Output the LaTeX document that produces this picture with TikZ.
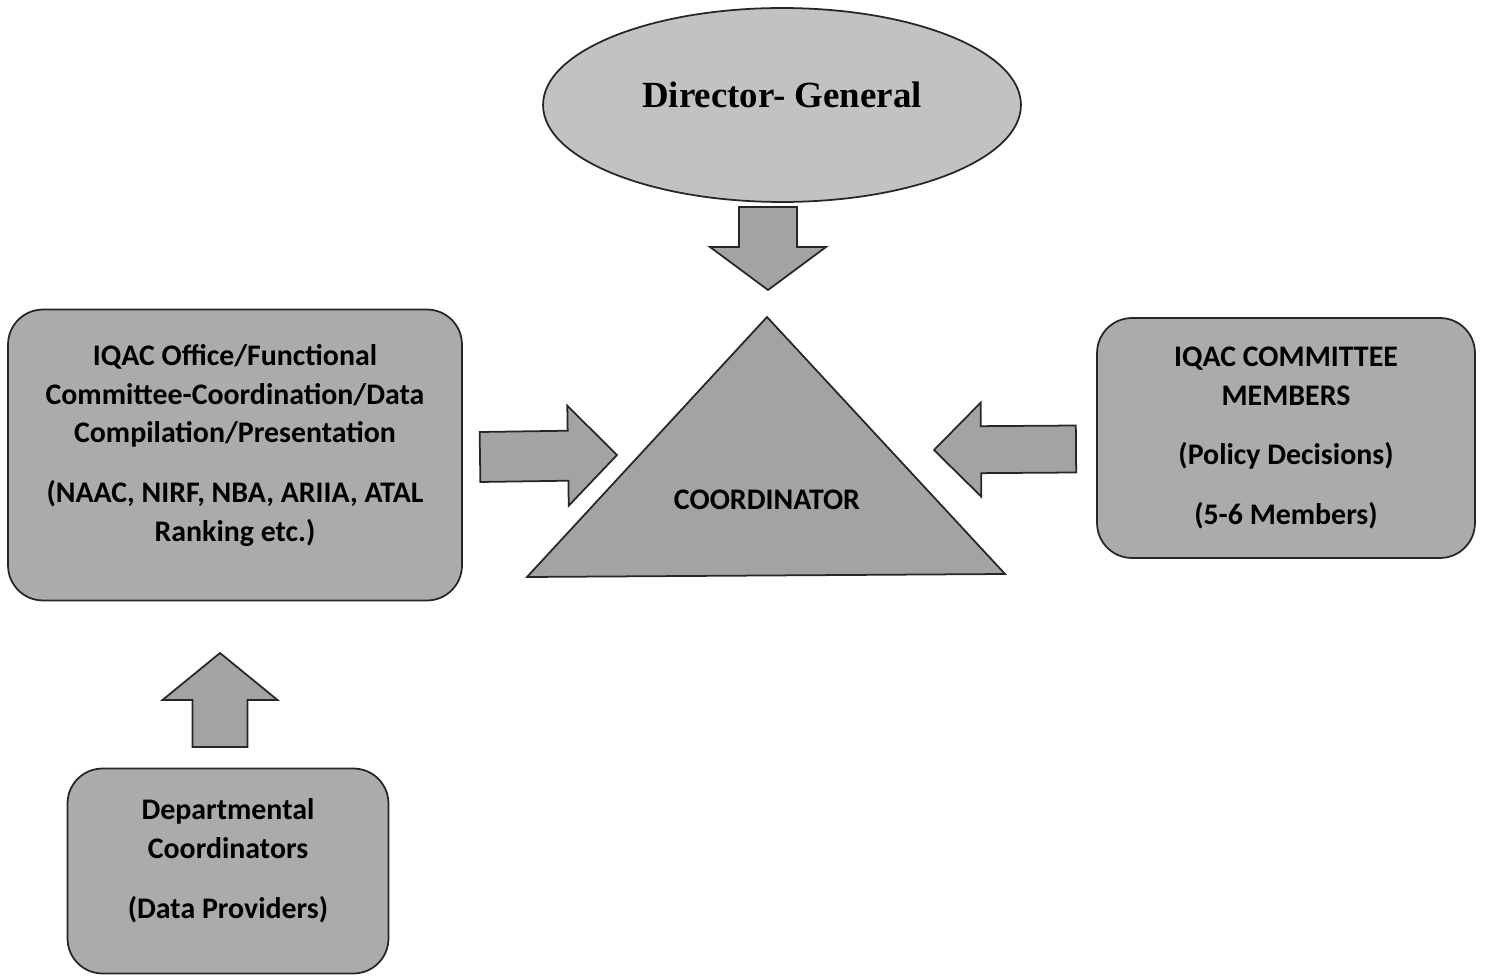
\documentclass[tikz,border=0pt]{standalone}
\usepackage{fontspec}
\setmainfont{Carlito}
\newfontfamily\dgfont{Liberation Serif}
\usetikzlibrary{shapes.geometric,calc}

\definecolor{ovalgray}{HTML}{C2C2C2}
\definecolor{boxgray}{HTML}{ABABAB}
\definecolor{arrowgray}{HTML}{A3A3A3}
\definecolor{edgegray}{HTML}{262626}

\newcommand\boxfont{\fontsize{17}{22}\selectfont\bfseries}
\newcommand\lift[1]{\rule[-#1]{0pt}{#1}}
% fat arrow: tail, tip, shaft half width, head half width, head length
\newcommand\fatarrow[5]{%
  \coordinate (fa-h) at ($(#2)!#5!(#1)$);
  \draw[arrowbody] ($(#1)!#3!90:(#2)$) -- ($(fa-h)!#3!-90:(#1)$)
    -- ($(fa-h)!#4!-90:(#1)$) -- (#2) -- ($(fa-h)!#4!90:(#1)$)
    -- ($(fa-h)!#3!90:(#1)$) -- ($(#1)!#3!-90:(#2)$) -- cycle;}

\begin{document}
\begin{tikzpicture}[x=0.02cm,y=-0.02cm,
    box/.style={draw=edgegray, line width=1pt, fill=boxgray, rounded corners=0.7cm,
      align=center, font=\boxfont, inner sep=0pt},
    arrowbody/.style={draw=edgegray, line width=1pt, fill=arrowgray, line join=miter}]
  \useasboundingbox (0,0) rectangle (1488,976);

  \node[ellipse, draw=edgegray, line width=1pt, fill=ovalgray, inner sep=0pt,
    minimum width=9.56cm, minimum height=3.88cm,
    font=\dgfont\bfseries\fontsize{21}{25}\selectfont] (dg) at (782,105)
    {Director- General\lift{12pt}};

  \node[box, minimum width=9.08cm, minimum height=5.82cm] (office) at (235,455)
    {IQAC Office/Functional\\ Committee-Coordination/Data\\ Compilation/Presentation\\[12pt]
     (NAAC, NIRF, NBA, ARIIA, ATAL\\ Ranking etc.)\lift{14pt}};
  \node[box, minimum width=7.56cm, minimum height=4.8cm] (members) at (1286,438)
    {IQAC COMMITTEE\\ MEMBERS\\[12pt] (Policy Decisions)\\[12pt] (5-6 Members)};
  \node[box, minimum width=6.42cm, minimum height=4.1cm] (dept) at (228,871)
    {Departmental\\ Coordinators\\[12pt] (Data Providers)\lift{14pt}};

  \coordinate (apex) at (767,317);
  \coordinate (baseL) at (527,577);
  \coordinate (baseR) at (1005,574);
  \draw[arrowbody] (apex) -- (baseL) -- (baseR) -- cycle;
  \node[font=\boxfont] (coord) at (767,500) {COORDINATOR};

  \coordinate (dg-out) at (768,207);
  \coordinate (coord-top) at (768,290);
  \coordinate (office-out) at (480,457);
  \coordinate (coord-left) at (617,455);
  \coordinate (members-out) at (1076,449);
  \coordinate (coord-right) at (934,450);
  \coordinate (dept-out) at (220,747);
  \coordinate (office-in) at (220,653);

  \foreach \a/\b/\w/\h/\l in {dg-out/coord-top/0.58cm/1.16cm/0.86cm,
      office-out/coord-left/0.5cm/1cm/0.98cm,
      members-out/coord-right/0.47cm/0.94cm/0.94cm,
      dept-out/office-in/0.55cm/1.15cm/0.94cm}
    \fatarrow{\a}{\b}{\w}{\h}{\l};
\end{tikzpicture}
\end{document}
